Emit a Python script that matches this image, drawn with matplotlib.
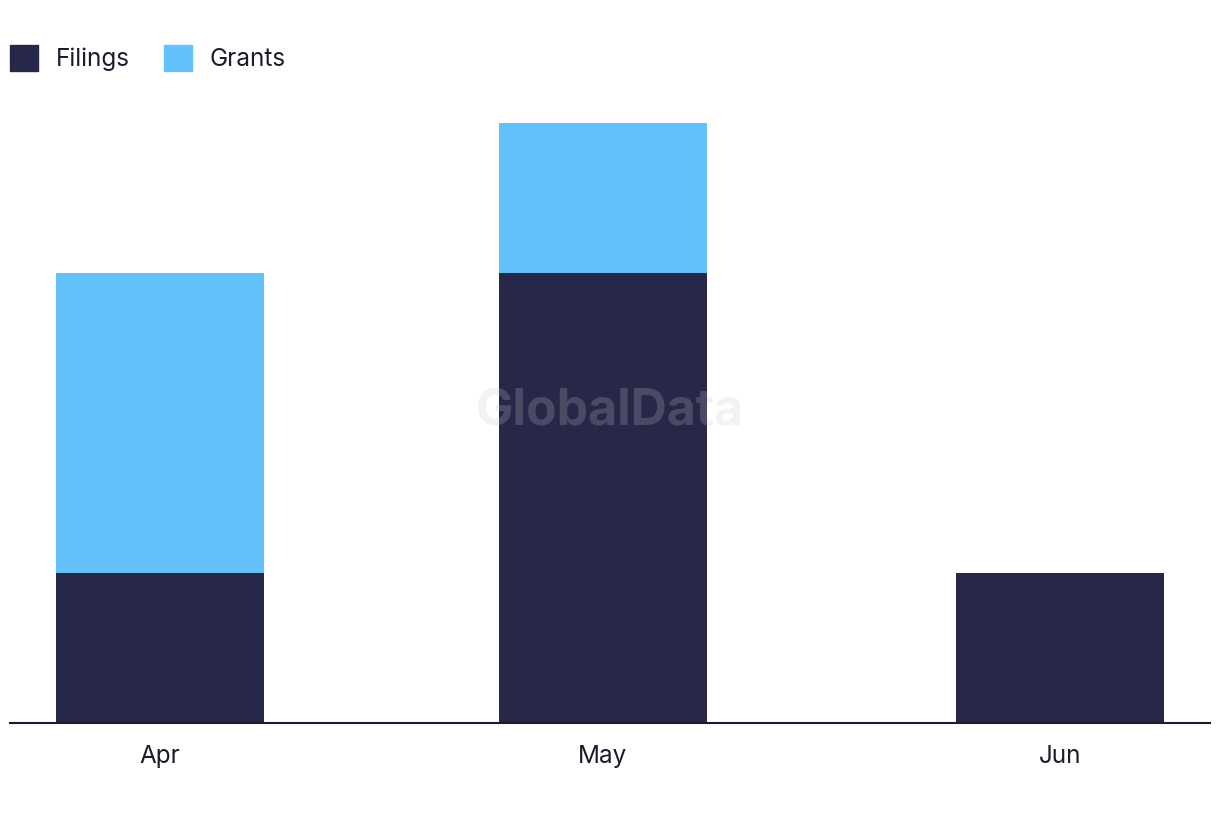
"""
Monthly filings vs grants, stacked bars on a date axis.
"""

import datetime as dt
import matplotlib
matplotlib.use("Agg")
import matplotlib.pyplot as plt
import matplotlib.dates as mdates
from matplotlib.patches import Patch

months = [dt.date(2023, 4, 1), dt.date(2023, 5, 1), dt.date(2023, 6, 1)]
month_labels = ["Apr", "May", "Jun"]
filings = [1, 3, 1]
grants = [2, 1, 0]

FILINGS_COLOR = "#272849"
GRANTS_COLOR = "#62c1f8"
TEXT_COLOR = "#1b1b2f"

plt.rcParams["font.family"] = ["Inter", "DejaVu Sans"]

fig = plt.figure(figsize=(12.2, 8.22), dpi=100)
ax = fig.add_axes([10 / 1220, 99 / 822, 1200 / 1220, 600 / 822])

x = mdates.date2num(months)
width = 14.1  # days
ax.bar(x, filings, width=width, color=FILINGS_COLOR, label="Filings")
ax.bar(x, grants, width=width, bottom=filings, color=GRANTS_COLOR, label="Grants")

ax.set_xlim(x[0] - 10.17, x[-1] + 10.17)
ax.set_ylim(0, 4)

for side in ("top", "right", "left"):
    ax.spines[side].set_visible(False)
ax.spines["bottom"].set_color(TEXT_COLOR)
ax.spines["bottom"].set_linewidth(1.5)
ax.set_yticks([])
ax.set_xticks(x)
ax.set_xticklabels(month_labels)
ax.tick_params(axis="x", length=0, pad=16, labelsize=17.5, labelcolor=TEXT_COLOR)

# watermark
fig.text(610 / 1220, 1 - 412 / 822, "GlobalData", ha="center", va="center",
         fontsize=36, fontweight="bold", color=(0.77, 0.77, 0.77), alpha=0.22)

handles = [Patch(color=FILINGS_COLOR), Patch(color=GRANTS_COLOR)]
fig.legend(handles, ["Filings", "Grants"], loc="upper left",
           bbox_to_anchor=(10 / 1220, 1 - 45 / 822), ncol=2, frameon=False,
           fontsize=17.5, labelcolor=TEXT_COLOR, handlelength=1.17,
           handleheight=1.25, handletextpad=0.72, columnspacing=1.4,
           borderpad=0, borderaxespad=0)

plt.savefig("out.png", dpi=100)
plt.close()
